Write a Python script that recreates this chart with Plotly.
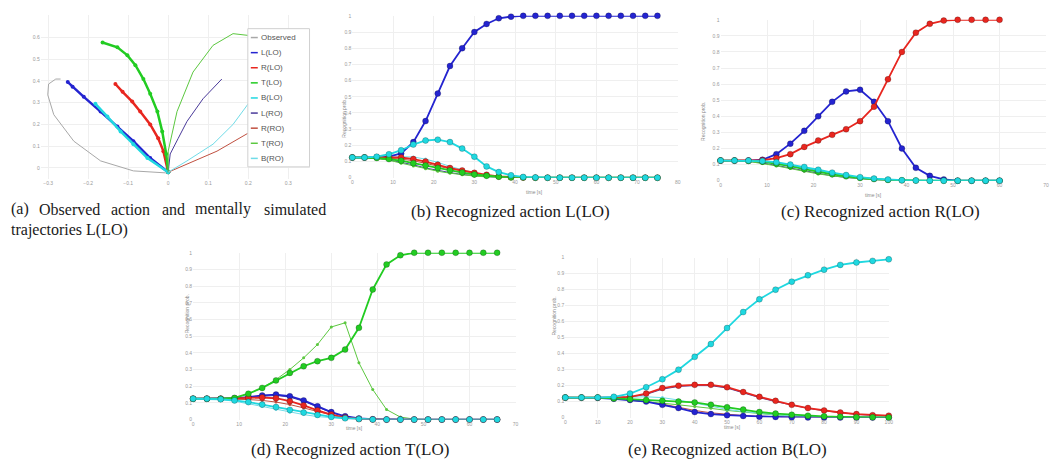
import plotly.graph_objects as go

W, H = 1056, 468

# ---------------- data ----------------
hyp_names = ["L(LO)", "R(LO)", "T(LO)", "B(LO)", "L(RO)", "R(RO)", "T(RO)", "B(RO)"]
hyp_colors = ["#2424d0", "#e8261f", "#22cc22", "#1fd8e0", "#4a3a9a", "#c05040", "#5cc840", "#70dce8"]
hyp_is_lo = [True, True, True, True, False, False, False, False]

# (a) trajectories (x, y)
obs_x = [0.0, -0.007, -0.087, -0.169, -0.236, -0.286, -0.301, -0.299, -0.281, -0.269]
obs_y = [-0.02, -0.023, -0.014, 0.032, 0.123, 0.245, 0.336, 0.386, 0.409, 0.409]
traj_x = {
    "L(LO)": [0.0, -0.045, -0.087, -0.127, -0.169, -0.211, -0.239, -0.251],
    "R(LO)": [0.0, -0.012, -0.025, -0.045, -0.07, -0.09, -0.114, -0.132],
    "T(LO)": [0.0, -0.005, -0.015, -0.027, -0.045, -0.062, -0.082, -0.102, -0.127, -0.164],
    "B(LO)": [0.0, -0.052, -0.087, -0.119, -0.152, -0.182],
    "L(RO)": [0.0, 0.005, 0.025, 0.047, 0.087, 0.134],
    "R(RO)": [0.0, 0.047, 0.122, 0.199],
    "T(RO)": [0.0, 0.0, 0.022, 0.062, 0.112, 0.162, 0.204],
    "B(RO)": [0.0, 0.047, 0.112, 0.162, 0.204],
}
traj_y = {
    "L(LO)": [-0.02, 0.045, 0.123, 0.191, 0.259, 0.327, 0.373, 0.395],
    "R(LO)": [-0.02, 0.077, 0.136, 0.2, 0.259, 0.305, 0.35, 0.386],
    "T(LO)": [-0.02, 0.064, 0.168, 0.259, 0.341, 0.409, 0.473, 0.518, 0.555, 0.577],
    "B(LO)": [-0.02, 0.045, 0.109, 0.168, 0.236, 0.295],
    "L(RO)": [-0.02, 0.064, 0.136, 0.214, 0.318, 0.409],
    "R(RO)": [-0.02, 0.018, 0.077, 0.159],
    "T(RO)": [-0.02, 0.077, 0.259, 0.441, 0.564, 0.618, 0.609],
    "B(RO)": [-0.02, 0.032, 0.109, 0.2, 0.305],
}
traj_xticks = [-0.3, -0.2, -0.1, 0, 0.1, 0.2, 0.3]
traj_yticks = [0, 0.1, 0.2, 0.3, 0.4, 0.5, 0.6]

# (b) recognized L(LO)
time_b = [0, 3, 6, 9, 12, 15, 18, 21, 24, 27, 30, 33, 36, 39, 42, 45, 48, 51, 54, 57, 60, 63, 66, 69, 72, 75]
prob_b = {
    "L(LO)": [0.125, 0.125, 0.126, 0.13, 0.15, 0.22, 0.35, 0.52, 0.69, 0.80, 0.90, 0.95, 0.985, 0.995, 1, 1, 1, 1, 1, 1, 1, 1, 1, 1, 1, 1],
    "R(LO)": [0.125, 0.125, 0.127, 0.128, 0.125, 0.115, 0.10, 0.08, 0.06, 0.045, 0.03, 0.018, 0.008, 0.003, 0.001, 0, 0, 0, 0, 0, 0, 0, 0, 0, 0, 0],
    "T(LO)": [0.125, 0.125, 0.122, 0.115, 0.105, 0.09, 0.075, 0.06, 0.045, 0.032, 0.02, 0.012, 0.006, 0.002, 0.001, 0, 0, 0, 0, 0, 0, 0, 0, 0, 0, 0],
    "B(LO)": [0.125, 0.125, 0.13, 0.145, 0.17, 0.205, 0.23, 0.235, 0.22, 0.18, 0.13, 0.07, 0.035, 0.015, 0.005, 0.002, 0, 0, 0, 0, 0, 0, 0, 0, 0, 0],
    "L(RO)": [0.125, 0.125, 0.12, 0.11, 0.095, 0.08, 0.06, 0.045, 0.032, 0.02, 0.012, 0.006, 0.003, 0.001, 0, 0, 0, 0, 0, 0, 0, 0, 0, 0, 0, 0],
    "R(RO)": [0.125, 0.125, 0.124, 0.12, 0.115, 0.105, 0.09, 0.072, 0.055, 0.04, 0.027, 0.015, 0.007, 0.003, 0.001, 0, 0, 0, 0, 0, 0, 0, 0, 0, 0, 0],
    "T(RO)": [0.125, 0.125, 0.12, 0.108, 0.09, 0.072, 0.055, 0.04, 0.028, 0.018, 0.01, 0.005, 0.002, 0.001, 0, 0, 0, 0, 0, 0, 0, 0, 0, 0, 0, 0],
    "B(RO)": [0.125, 0.125, 0.125, 0.125, 0.13, 0.128, 0.115, 0.095, 0.07, 0.048, 0.03, 0.017, 0.008, 0.003, 0.001, 0, 0, 0, 0, 0, 0, 0, 0, 0, 0, 0],
}

# (c) recognized R(LO)
time_c = [0, 3, 6, 9, 12, 15, 18, 21, 24, 27, 30, 33, 36, 39, 42, 45, 48, 51, 54, 57, 60]
prob_c = {
    "L(LO)": [0.125, 0.125, 0.125, 0.13, 0.165, 0.23, 0.31, 0.40, 0.49, 0.555, 0.565, 0.49, 0.37, 0.20, 0.08, 0.03, 0.008, 0, 0, 0, 0],
    "R(LO)": [0.125, 0.125, 0.125, 0.127, 0.14, 0.165, 0.21, 0.25, 0.285, 0.32, 0.37, 0.46, 0.63, 0.80, 0.92, 0.975, 0.995, 1, 1, 1, 1],
    "T(LO)": [0.125, 0.125, 0.123, 0.118, 0.105, 0.09, 0.072, 0.055, 0.04, 0.027, 0.017, 0.01, 0.005, 0.002, 0.001, 0, 0, 0, 0, 0, 0],
    "B(LO)": [0.125, 0.125, 0.125, 0.122, 0.115, 0.1, 0.085, 0.068, 0.05, 0.035, 0.022, 0.013, 0.007, 0.003, 0.001, 0, 0, 0, 0, 0, 0],
    "L(RO)": [0.125, 0.125, 0.12, 0.11, 0.095, 0.078, 0.06, 0.045, 0.03, 0.02, 0.012, 0.006, 0.003, 0.001, 0, 0, 0, 0, 0, 0, 0],
    "R(RO)": [0.125, 0.125, 0.124, 0.12, 0.11, 0.095, 0.078, 0.06, 0.045, 0.03, 0.02, 0.012, 0.006, 0.002, 0.001, 0, 0, 0, 0, 0, 0],
    "T(RO)": [0.125, 0.125, 0.12, 0.108, 0.092, 0.075, 0.058, 0.042, 0.03, 0.02, 0.012, 0.006, 0.003, 0.001, 0, 0, 0, 0, 0, 0, 0],
    "B(RO)": [0.125, 0.125, 0.124, 0.118, 0.105, 0.09, 0.073, 0.057, 0.042, 0.03, 0.02, 0.012, 0.006, 0.002, 0.001, 0, 0, 0, 0, 0, 0],
}

# (d) recognized T(LO)
time_d = [0, 3, 6, 9, 12, 15, 18, 21, 24, 27, 30, 33, 36, 39, 42, 45, 48, 51, 54, 57, 60, 63, 66]
prob_d = {
    "L(LO)": [0.125, 0.125, 0.125, 0.128, 0.135, 0.145, 0.15, 0.14, 0.115, 0.08, 0.045, 0.02, 0.007, 0.002, 0, 0, 0, 0, 0, 0, 0, 0, 0],
    "R(LO)": [0.125, 0.125, 0.125, 0.127, 0.13, 0.132, 0.128, 0.11, 0.085, 0.055, 0.03, 0.012, 0.004, 0.001, 0, 0, 0, 0, 0, 0, 0, 0, 0],
    "T(LO)": [0.125, 0.125, 0.125, 0.13, 0.155, 0.19, 0.235, 0.28, 0.32, 0.35, 0.37, 0.42, 0.55, 0.78, 0.93, 0.985, 1, 1, 1, 1, 1, 1, 1],
    "B(LO)": [0.125, 0.125, 0.122, 0.115, 0.105, 0.09, 0.075, 0.058, 0.042, 0.028, 0.016, 0.008, 0.003, 0.001, 0, 0, 0, 0, 0, 0, 0, 0, 0],
    "L(RO)": [0.125, 0.125, 0.125, 0.128, 0.133, 0.14, 0.145, 0.135, 0.11, 0.075, 0.042, 0.018, 0.006, 0.002, 0, 0, 0, 0, 0, 0, 0, 0, 0],
    "R(RO)": [0.125, 0.125, 0.124, 0.122, 0.12, 0.115, 0.105, 0.09, 0.07, 0.048, 0.027, 0.012, 0.004, 0.001, 0, 0, 0, 0, 0, 0, 0, 0, 0],
    "T(RO)": [0.125, 0.125, 0.125, 0.13, 0.155, 0.19, 0.24, 0.30, 0.37, 0.45, 0.555, 0.58, 0.34, 0.18, 0.06, 0.015, 0.003, 0, 0, 0, 0, 0, 0],
    "B(RO)": [0.125, 0.125, 0.12, 0.11, 0.095, 0.078, 0.06, 0.044, 0.03, 0.018, 0.01, 0.005, 0.002, 0, 0, 0, 0, 0, 0, 0, 0, 0, 0],
}

# (e) recognized B(LO)
time_e = [0, 5, 10, 15, 20, 25, 30, 35, 40, 45, 50, 55, 60, 65, 70, 75, 80, 85, 90, 95, 100]
prob_e = {
    "L(LO)": [0.125, 0.125, 0.124, 0.118, 0.11, 0.1, 0.08, 0.06, 0.035, 0.022, 0.015, 0.01, 0.006, 0.004, 0.002, 0.001, 0, 0, 0, 0, 0],
    "R(LO)": [0.125, 0.125, 0.125, 0.125, 0.13, 0.15, 0.185, 0.20, 0.205, 0.205, 0.19, 0.16, 0.13, 0.105, 0.08, 0.06, 0.045, 0.032, 0.022, 0.015, 0.012],
    "T(LO)": [0.125, 0.125, 0.125, 0.12, 0.115, 0.11, 0.105, 0.1, 0.095, 0.08, 0.065, 0.05, 0.035, 0.025, 0.018, 0.012, 0.008, 0.005, 0.003, 0.002, 0.001],
    "B(LO)": [0.125, 0.125, 0.125, 0.13, 0.15, 0.19, 0.24, 0.30, 0.38, 0.46, 0.56, 0.66, 0.74, 0.80, 0.85, 0.89, 0.925, 0.955, 0.97, 0.98, 0.99],
    "L(RO)": [0.125, 0.125, 0.125, 0.125, 0.128, 0.145, 0.178, 0.195, 0.2, 0.2, 0.185, 0.155, 0.125, 0.1, 0.077, 0.058, 0.043, 0.03, 0.02, 0.014, 0.011],
    "R(RO)": [0.125, 0.125, 0.124, 0.12, 0.112, 0.1, 0.085, 0.065, 0.045, 0.03, 0.02, 0.013, 0.008, 0.005, 0.003, 0.002, 0.001, 0, 0, 0, 0],
    "T(RO)": [0.125, 0.125, 0.124, 0.118, 0.11, 0.1, 0.09, 0.08, 0.07, 0.058, 0.045, 0.034, 0.024, 0.016, 0.01, 0.006, 0.004, 0.002, 0.001, 0.001, 0],
    "B(RO)": [0.125, 0.125, 0.125, 0.125, 0.128, 0.13, 0.125, 0.11, 0.09, 0.07, 0.052, 0.038, 0.027, 0.018, 0.012, 0.008, 0.005, 0.003, 0.002, 0.001, 0.001],
}

prob_yticks = [0, 0.1, 0.2, 0.3, 0.4, 0.5, 0.6, 0.7, 0.8, 0.9, 1]
prob_ytext = ["0", "0.1", "0.2", "0.3", "0.4", "0.5", "0.6", "0.7", "0.8", "0.9", "1"]

captions = {
    "b": "(b) Recognized action L(LO)",
    "c": "(c) Recognized action R(LO)",
    "d": "(d) Recognized action T(LO)",
    "e": "(e) Recognized action B(LO)",
}
caption_a_words = ["(a)", "Observed", "action", "and", "mentally", "simulated"]
caption_a_line2 = "trajectories L(LO)"

# ---------------- layout helpers ----------------
def dx(px):
    return px / W

def dy(py):
    return 1 - py / H

# panel boxes in pixels: (left, right, top, bottom)
boxes = {
    "a": (40, 310, 12, 178),
    "b": (353, 680, 13, 177),
    "c": (723, 1050, 17, 180),
    "d": (193, 517, 253, 422),
    "e": (567, 892, 258, 420),
}
axis_ids = {"a": "", "b": "2", "c": "3", "d": "4", "e": "5"}

fig = go.Figure()

tickfont = dict(size=5, color="#9a9a9a", family="Liberation Sans")
grid = "#efefef"

def set_axes(key, xrange, yrange, xticks, yticks, xtext=None, ytext=None):
    l, r, t, b = boxes[key]
    sid = axis_ids[key]
    xa = dict(domain=[dx(l), dx(r)], range=xrange, anchor="y" + sid,
              tickvals=xticks, ticktext=xtext, tickfont=tickfont,
              showgrid=True, gridcolor=grid, zeroline=False, showline=False,
              ticks="", ticklen=0)
    ya = dict(domain=[dy(b), dy(t)], range=yrange, anchor="x" + sid,
              tickvals=yticks, ticktext=ytext, tickfont=tickfont,
              showgrid=True, gridcolor=grid, zeroline=False, showline=False,
              ticks="", ticklen=0)
    fig.update_layout(**{"xaxis" + sid: xa, "yaxis" + sid: ya})

# ---- panel (a)
set_axes("a", [(40 - 168) / 402, (310 - 168) / 402], [(167 - 178) / 220, (167 - 12) / 220],
         traj_xticks, traj_yticks)
fig.add_trace(go.Scatter(x=obs_x, y=obs_y, mode="lines", line=dict(color="#a8a8a8", width=1),
                         xaxis="x", yaxis="y", showlegend=False, cliponaxis=False))
for name, col, lo in zip(hyp_names, hyp_colors, hyp_is_lo):
    if lo:
        fig.add_trace(go.Scatter(x=traj_x[name], y=traj_y[name], mode="lines+markers",
                                 line=dict(color=col, width=2.5),
                                 marker=dict(color=col, size=4),
                                 xaxis="x", yaxis="y", showlegend=False, cliponaxis=False))
    else:
        fig.add_trace(go.Scatter(x=traj_x[name], y=traj_y[name], mode="lines",
                                 line=dict(color=col, width=1),
                                 xaxis="x", yaxis="y", showlegend=False, cliponaxis=False))

# ---- probability panels
panels = [
    ("b", time_b, prob_b, [0, 80], [0, 10, 20, 30, 40, 50, 60, 70, 80]),
    ("c", time_c, prob_c, [0, 70], [0, 10, 20, 30, 40, 50, 60, 70]),
    ("d", time_d, prob_d, [0, 70], [0, 10, 20, 30, 40, 50, 60, 70]),
    ("e", time_e, prob_e, [0, 100], [0, 10, 20, 30, 40, 50, 60, 70, 80, 90, 100]),
]
for key, tx, probs, xr, xt in panels:
    set_axes(key, xr, [0, 1], xt, prob_yticks, None, prob_ytext)
    sid = axis_ids[key]
    # RO first (thin), then LO (thick, markers)
    order = [4, 5, 6, 7, 0, 1, 2, 3]
    for i in order:
        name = hyp_names[i]
        col = hyp_colors[i]
        lo = hyp_is_lo[i]
        fig.add_trace(go.Scatter(
            x=tx, y=probs[name], mode="lines+markers",
            line=dict(color=col, width=1.8 if lo else 1.0),
            marker=dict(color=col, size=6 if lo else 3, symbol="circle",
                        line=dict(color="rgba(0,0,0,0.35)", width=0.6) if lo else dict(width=0)),
            xaxis="x" + sid, yaxis="y" + sid, showlegend=False, cliponaxis=False))

# ---------------- annotations ----------------
ann = []
serif = "Liberation Serif"
cap_font = dict(family=serif, size=16, color="#1a1a1a")

# caption (a), justified by words
word_x = [8, 36, 109, 160, 193, 262]
for w, x in zip(caption_a_words, word_x):
    ann.append(dict(text=w, x=dx(x), y=dy(209), xref="paper", yref="paper",
                    xanchor="left", yanchor="middle", showarrow=False, font=cap_font))
ann.append(dict(text=caption_a_line2, x=dx(8), y=dy(230), xref="paper", yref="paper",
                xanchor="left", yanchor="middle", showarrow=False, font=cap_font))

cap_pos = {"b": (512, 211), "c": (884, 211), "d": (351, 452), "e": (730, 452)}
for k, (x, y) in cap_pos.items():
    ann.append(dict(text=captions[k], x=dx(x), y=dy(y), xref="paper", yref="paper",
                    xanchor="center", yanchor="middle", showarrow=False,
                    font=dict(family=serif, size=17, color="#1a1a1a")))

small = dict(size=5, color="#8a8a8a", family="Liberation Sans")
ylab_pos = {"b": (340, 95), "c": (711, 98), "d": (182, 337), "e": (556, 339)}
for k, (x, y) in ylab_pos.items():
    ann.append(dict(text="Recognition prob.", x=dx(x), y=dy(y), xref="paper", yref="paper",
                    textangle=-90, showarrow=False, font=small))
xlab_pos = {"b": (536, 191), "c": (887, 194), "d": (355, 436), "e": (746, 435)}
for k, (x, y) in xlab_pos.items():
    ann.append(dict(text="time [s]", x=dx(x), y=dy(y), xref="paper", yref="paper",
                    showarrow=False, font=small))

# legend for (a), drawn inside the axes box
leg_names = ["Observed"] + hyp_names
leg_colors = ["#a8a8a8"] + hyp_colors
shapes = [dict(type="rect", xref="paper", yref="paper", x0=dx(248), x1=dx(310),
               y0=dy(166), y1=dy(26), line=dict(color="#d0d0d0", width=1), fillcolor="white", layer="above")]
for i, (nm, col) in enumerate(zip(leg_names, leg_colors)):
    yy = 35 + i * 15.3
    shapes.append(dict(type="line", xref="paper", yref="paper", x0=dx(251), x1=dx(258),
                       y0=dy(yy), y1=dy(yy), line=dict(color=col, width=1.5), layer="above"))
    ann.append(dict(text=nm, x=dx(259), y=dy(yy), xref="paper", yref="paper",
                    xanchor="left", yanchor="middle", showarrow=False,
                    font=dict(size=8, color="#555", family="Liberation Sans")))

fig.update_layout(
    width=W, height=H, margin=dict(l=0, r=0, t=0, b=0),
    paper_bgcolor="white", plot_bgcolor="white",
    annotations=ann, shapes=shapes, showlegend=False,
)

fig.write_html("out.html")
